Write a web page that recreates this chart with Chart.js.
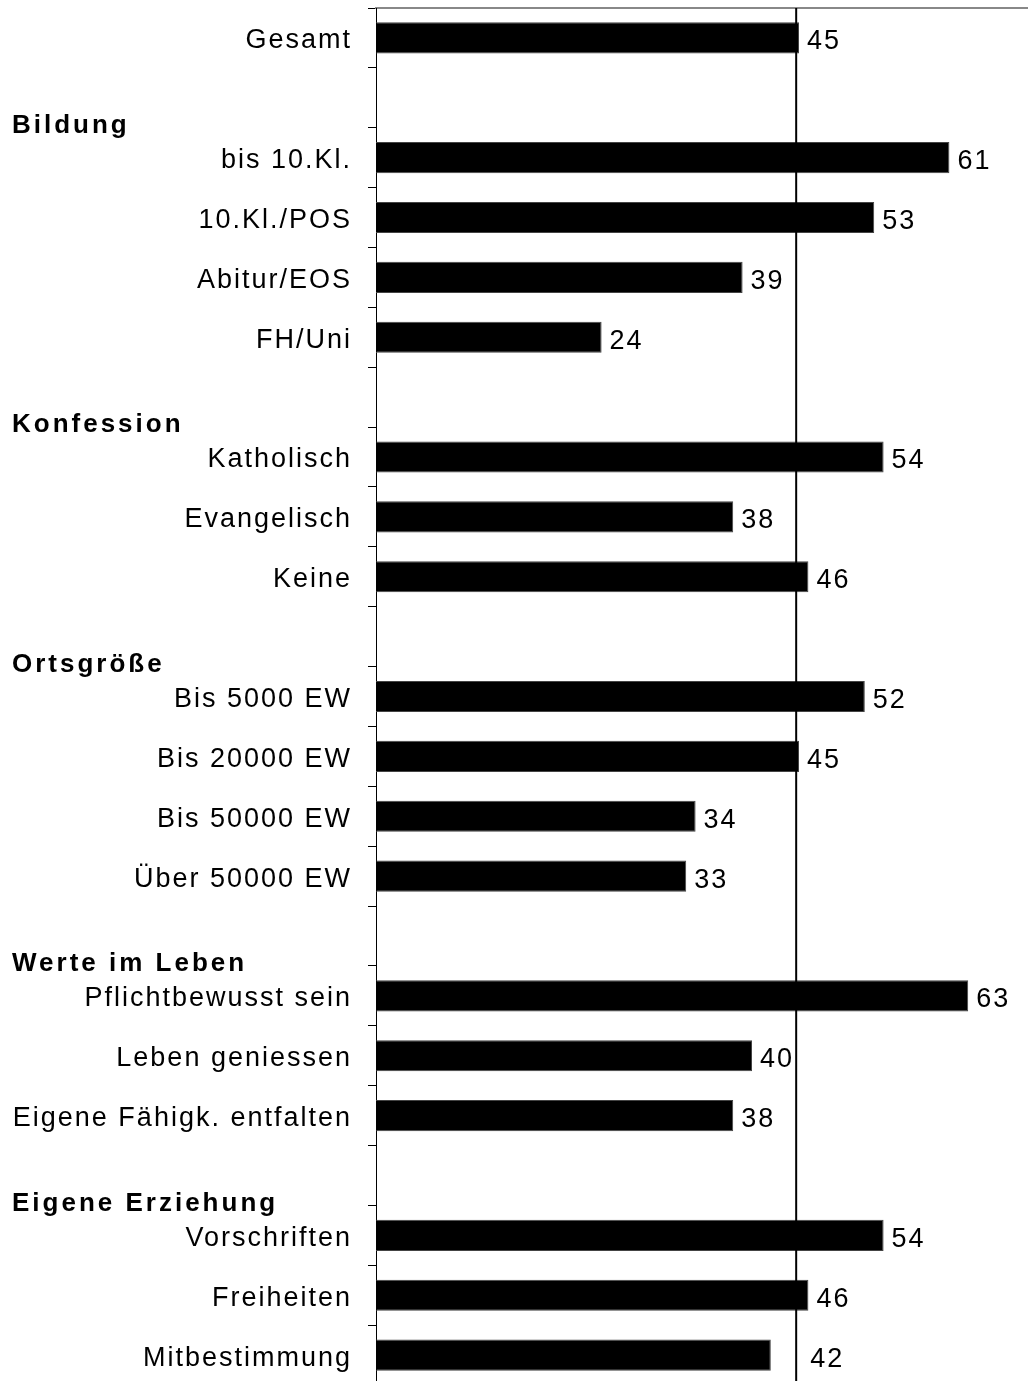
<!DOCTYPE html>
<html>
<head>
<meta charset="utf-8">
<script src="https://cdn.jsdelivr.net/npm/chart.js@4"></script>
<style>
  html, body { margin: 0; padding: 0; background: #fff; overflow: hidden; }
  canvas { display: block; }
</style>
</head>
<body>
<canvas id="chart" width="1034" height="1385"></canvas>
<script>
// Kategorien (leere Einträge = Leerzeile vor einer Gruppe)
var categories = ['Gesamt', '', 'bis 10.Kl.', '10.Kl./POS', 'Abitur/EOS', 'FH/Uni', '',
  'Katholisch', 'Evangelisch', 'Keine', '', 'Bis 5000 EW', 'Bis 20000 EW', 'Bis 50000 EW',
  'Über 50000 EW', '', 'Pflichtbewusst sein', 'Leben geniessen', 'Eigene Fähigk. entfalten', '',
  'Vorschriften', 'Freiheiten', 'Mitbestimmung'];
var values = [45, null, 61, 53, 39, 24, null, 54, 38, 46, null, 52, 45, 34, 33, null, 63, 40, 38, null, 54, 46, 42];

// Gruppenüberschriften und die Leerzeile, in der sie stehen
var groupTitles = ['Bildung', 'Konfession', 'Ortsgröße', 'Werte im Leben', 'Eigene Erziehung'];
var groupRows = [1, 6, 10, 15, 19];

// senkrechte Linie beim Gesamtwert
var referenceValue = 44.7;
var xMin = 0, xMax = 70;

var FONT = '"Liberation Sans", Arial, sans-serif';
var SPACING = '2px';

var extras = {
  id: 'extras',
  beforeDraw: function(chart) {
    chart.ctx.letterSpacing = SPACING;
  },
  afterDatasetsDraw: function(chart) {
    var ctx = chart.ctx, xs = chart.scales.x, ys = chart.scales.y, area = chart.chartArea;
    var lineX = xs.getPixelForValue(referenceValue);
    ctx.save();
    ctx.letterSpacing = SPACING;
    ctx.strokeStyle = '#000';
    ctx.lineWidth = 2;
    ctx.beginPath();
    ctx.moveTo(lineX, area.top);
    ctx.lineTo(lineX, area.bottom + 20);
    ctx.stroke();

    // Werte rechts neben den Balken
    ctx.font = '27px ' + FONT;
    ctx.fillStyle = '#000';
    ctx.textAlign = 'left';
    ctx.textBaseline = 'middle';
    chart.getDatasetMeta(0).data.forEach(function(bar, i) {
      if (values[i] == null) return;
      var txt = String(values[i]);
      var tx = bar.x + 8;
      var w = ctx.measureText(txt).width;
      if (tx < lineX && tx + w > lineX) tx = lineX + 14;
      ctx.fillText(txt, tx, bar.y + 4);
    });

    // Gruppenüberschriften
    ctx.font = 'bold 26px ' + FONT;
    ctx.letterSpacing = '3px';
    groupTitles.forEach(function(t, k) {
      var r = groupRows[k];
      var gy = (ys.getPixelForValue(r) + ys.getPixelForValue(r + 1)) / 2 - 2;
      ctx.fillText(t, 12, gy);
    });
    ctx.restore();
  }
};

new Chart(document.getElementById('chart'), {
  type: 'bar',
  data: {
    labels: categories,
    datasets: [{
      data: values,
      backgroundColor: '#000',
      borderColor: '#444',
      borderWidth: 1,
      barPercentage: 0.52,
      categoryPercentage: 1
    }]
  },
  options: {
    indexAxis: 'y',
    responsive: false,
    animation: false,
    layout: { padding: { top: 8, right: 0, bottom: 0, left: 0 } },
    plugins: { legend: { display: false }, tooltip: { enabled: false } },
    scales: {
      x: {
        position: 'top',
        min: xMin,
        max: xMax,
        grid: { display: false },
        ticks: { display: false },
        border: { display: true, color: '#888', width: 2 },
        afterFit: function(s) { s.height = 0; s.paddingLeft = 0; s.paddingRight = 0; }
      },
      y: {
        offset: true,
        grid: { offset: true, drawOnChartArea: false, tickLength: 8, color: '#000', lineWidth: 1 },
        border: { color: '#000', width: 1 },
        ticks: {
          color: '#000',
          font: { family: FONT, size: 27 },
          padding: 16,
          labelOffset: 3,
          autoSkip: false
        },
        afterFit: function(s) { s.width = 376; s.paddingTop = 0; s.paddingBottom = 0; }
      }
    }
  },
  plugins: [extras]
});
</script>
</body>
</html>
